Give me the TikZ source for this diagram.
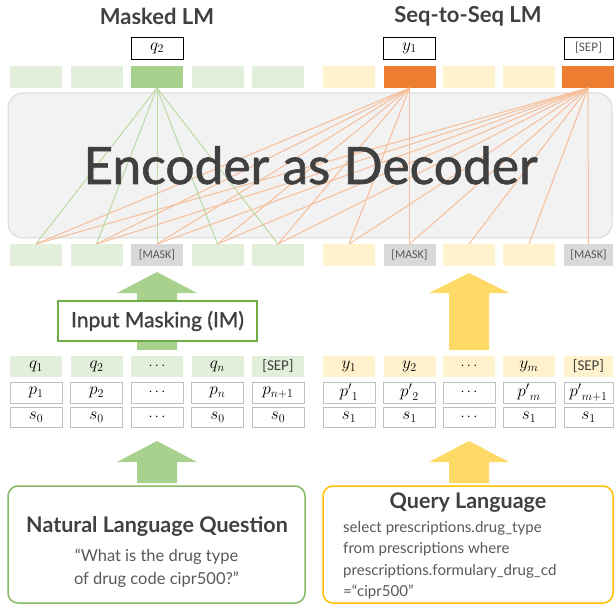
\documentclass[tikz,border=0pt]{standalone}
\usepackage{fontspec}
\setmainfont{Lato}
\newfontfamily\calib{Carlito}
\newfontfamily\medfont[FakeBold=1.2]{Lato}
\definecolor{gLight}{HTML}{E2EFDA}
\definecolor{gMid}{HTML}{A9D18E}
\definecolor{gLine}{HTML}{B9DAA3}
\definecolor{gBorder}{HTML}{70AD47}
\definecolor{oLight}{HTML}{FFF2CC}
\definecolor{oDark}{HTML}{ED7D31}
\definecolor{oLine}{HTML}{F6BE9A}
\definecolor{yArrow}{HTML}{FFD966}
\definecolor{yBorder}{HTML}{FFC000}
\definecolor{maskFill}{HTML}{D9D9D9}
\definecolor{cellBorder}{HTML}{BFBFBF}
\definecolor{encFill}{HTML}{F2F2F2}
\definecolor{encBorder}{HTML}{D9D9D9}
\definecolor{txt}{HTML}{404040}
\definecolor{txtLight}{HTML}{595959}
\begin{document}
\begin{tikzpicture}[x=1pt,y=-1pt,
  cell/.style={minimum width=52pt, minimum height=22pt, inner sep=0pt, outer sep=0pt},
  gcell/.style={cell, fill=gLight},
  gdark/.style={cell, fill=gMid},
  ocell/.style={cell, fill=oLight},
  odark/.style={cell, fill=oDark},
  mcell/.style={cell, fill=maskFill, text=txtLight, font=\calib\fontsize{12}{12}\selectfont},
  incell/.style={cell, minimum height=21pt, draw=cellBorder, line width=0.8pt, fill=white, font=\fontsize{17}{17}\selectfont},
  ingcell/.style={cell, minimum height=21pt, fill=gLight, font=\fontsize{17}{17}\selectfont},
  inocell/.style={cell, minimum height=21pt, fill=oLight, font=\fontsize{17}{17}\selectfont},
  labbox/.style={cell, draw=black, line width=0.8pt, fill=white, font=\fontsize{17}{17}\selectfont},
  gline/.style={draw=gLine, line width=1pt},
  oline/.style={draw=oLine, line width=1pt},
  title/.style={text=txt, font=\bfseries\fontsize{22}{22}\selectfont, inner sep=0pt},
]
\useasboundingbox (0,0) rectangle (616,604);

% encoder box
\filldraw[fill=encFill, draw=encBorder, line width=1pt, rounded corners=15pt] (8,93) rectangle (612,238);

% titles
\node[title] (tML) at (157,16) {Masked LM};
\node[title] (tSS) at (468,16) {Seq-to-Seq LM};

% top output row
\node[gcell] (tl1) at (36,77) {};
\node[gcell] (tl2) at (96.5,77) {};
\node[gdark] (tl3) at (157,77) {};
\node[gcell] (tl4) at (217.5,77) {};
\node[gcell] (tl5) at (278,77) {};
\node[ocell] (tr1) at (349,77) {};
\node[odark] (tr2) at (409.5,77) {};
\node[ocell] (tr3) at (469,77) {};
\node[ocell] (tr4) at (529,77) {};
\node[odark] (tr5) at (588,77) {};

% label boxes
\node[labbox] (lq2) at (157,48) {$q_2$};
\node[labbox] (ly1) at (409.5,48) {$y_1$};
\node[labbox, minimum width=49pt, text=txtLight, font=\calib\fontsize{13}{13}\selectfont] (lsep) at (588.5,48) {[SEP]};

% encoder input row
\node[gcell] (el1) at (36,255) {};
\node[gcell] (el2) at (96.5,255) {};
\node[mcell] (el3) at (157,255) {[MASK]};
\node[gcell] (el4) at (217.5,255) {};
\node[gcell] (el5) at (278,255) {};
\node[ocell] (er1) at (349,255) {};
\node[mcell] (er2) at (409.5,255) {[MASK]};
\node[ocell] (er3) at (469,255) {};
\node[ocell] (er4) at (529,255) {};
\node[mcell, minimum width=49pt] (er5) at (588.5,255) {[MASK]};

% attention lines
\foreach \i in {1,...,5} {
  \draw[gline] (tl3.south) -- (el\i.north);
  \draw[oline] (tr2.south) -- (el\i.north);
  \draw[oline] (tr5.south) -- (el\i.north);
  \draw[oline] (tr5.south) -- (er\i.north);
}
\draw[oline] (tr2.south) -- (er1.north);
\draw[oline] (tr2.south) -- (er2.north);

\node[text=txt, font=\medfont\fontsize{51.5}{51.5}\selectfont, inner sep=0pt, anchor=base] (enc) at (310.5,184) {Encoder as Decoder};

% upper arrows
\fill[gMid] (157,272) -- (197,293) -- (177,293) -- (177,350) -- (137,350) -- (137,293) -- (117,293) -- cycle;
\fill[yArrow] (469,273) -- (509,293) -- (489,293) -- (489,350) -- (449,350) -- (449,293) -- (429,293) -- cycle;

% IM box
\node[draw=gBorder, line width=1.5pt, fill=white, minimum width=199pt, minimum height=40pt, inner sep=0pt, text=txt, font=\medfont\fontsize{21}{21}\selectfont] (im) at (157.5,321) {Input Masking (IM)};

% input table left
\node[ingcell] (q1) at (36,366.5) {$q_1$};
\node[ingcell] (q2) at (96.5,366.5) {$q_2$};
\node[ingcell, font=\fontsize{14}{14}\selectfont] (q3) at (157,366.5) {$\cdots$};
\node[ingcell] (q4) at (217.5,366.5) {$q_n$};
\node[ingcell, text=txt, font=\calib\fontsize{15}{15}\selectfont] (q5) at (278,366.5) {[SEP]};
\node[incell] (p1) at (36,392.5) {$p_1$};
\node[incell] (p2) at (96.5,392.5) {$p_2$};
\node[incell, font=\fontsize{14}{14}\selectfont] (p3) at (157,392.5) {$\cdots$};
\node[incell] (p4) at (217.5,392.5) {$p_n$};
\node[incell] (p5) at (278,392.5) {$p_{n+1}$};
\node[incell, minimum height=20pt] (s1) at (36,417.5) {$s_0$};
\node[incell, minimum height=20pt] (s2) at (96.5,417.5) {$s_0$};
\node[incell, minimum height=20pt, font=\fontsize{14}{14}\selectfont] (s3) at (157,417.5) {$\cdots$};
\node[incell, minimum height=20pt] (s4) at (217.5,417.5) {$s_0$};
\node[incell, minimum height=20pt] (s5) at (278,417.5) {$s_0$};

% input table right
\node[inocell] (y1) at (349,366.5) {$y_1$};
\node[inocell] (y2) at (409.5,366.5) {$y_2$};
\node[inocell, font=\fontsize{14}{14}\selectfont] (y3) at (469,366.5) {$\cdots$};
\node[inocell] (y4) at (529,366.5) {$y_m$};
\node[inocell, minimum width=49pt, text=txt, font=\calib\fontsize{15}{15}\selectfont] (y5) at (588.5,366.5) {[SEP]};
\node[incell] (pp1) at (349,392.5) {${p'}_1$};
\node[incell] (pp2) at (409.5,392.5) {${p'}_2$};
\node[incell, font=\fontsize{14}{14}\selectfont] (pp3) at (469,392.5) {$\cdots$};
\node[incell] (pp4) at (529,392.5) {${p'}_m$};
\node[incell, minimum width=49pt] (pp5) at (588.5,392.5) {${p'}_{m+1}$};
\node[incell, minimum height=20pt] (ss1) at (349,417.5) {$s_1$};
\node[incell, minimum height=20pt] (ss2) at (409.5,417.5) {$s_1$};
\node[incell, minimum height=20pt, font=\fontsize{14}{14}\selectfont] (ss3) at (469,417.5) {$\cdots$};
\node[incell, minimum height=20pt] (ss4) at (529,417.5) {$s_1$};
\node[incell, minimum height=20pt, minimum width=49pt] (ss5) at (588.5,417.5) {$s_1$};

% lower arrows
\fill[gMid] (157,441) -- (197,462) -- (177,462) -- (177,483) -- (137,483) -- (137,462) -- (117,462) -- cycle;
\fill[yArrow] (469,441) -- (509,462) -- (489,462) -- (489,483) -- (449,483) -- (449,462) -- (429,462) -- cycle;

% bottom boxes
\draw[draw=gBorder!85, line width=1.5pt, rounded corners=10pt, fill=white] (8,486) rectangle (305,603);
\draw[draw=yBorder, line width=1.5pt, rounded corners=10pt, fill=white] (323,486) rectangle (613,603);

\node[text=txt, font=\bfseries\fontsize{21.5}{21.5}\selectfont, inner sep=0pt] (nlqT) at (157,526) {Natural Language Question};
\node[text=txtLight, font=\fontsize{16.5}{23}\selectfont, align=center, inner sep=0pt, anchor=north] (nlqB) at (156.5,549) {“What is the drug type\\of drug code cipr500?”};

\node[text=txt, font=\bfseries\fontsize{21.5}{21.5}\selectfont, inner sep=0pt] (qlT) at (468,503) {Query Language};
\node[text=txtLight, font=\fontsize{15.1}{21.5}\selectfont, align=left, inner sep=0pt, anchor=north west] (qlB) at (343,521) {select prescriptions.drug\_type\\from prescriptions where\\prescriptions.formulary\_drug\_cd\\=“cipr500”};
\end{tikzpicture}
\end{document}
